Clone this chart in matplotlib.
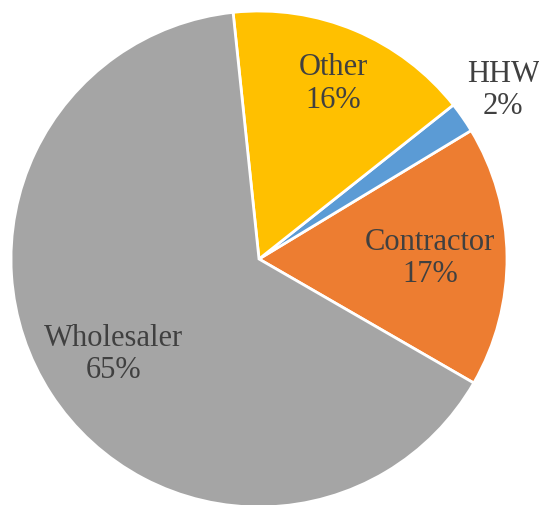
import numpy as np
import matplotlib.pyplot as plt

# slices, counter-clockwise from the lower right
labels = ["Contractor", "HHW", "Other", "Wholesaler"]
shares = [17, 2, 16, 65]
colors = ["#ED7D31", "#5B9BD5", "#FFC000", "#A5A5A5"]
label_dist = [0.69, 1.20, 0.77, 0.70]

fig = plt.figure(figsize=(5.39, 5.06), dpi=100)
ax = fig.add_axes([11 / 539, -2 / 506, 496 / 539, 496 / 506])

wedges, _ = ax.pie(
    shares,
    colors=colors,
    startangle=-30,
    counterclock=True,
    radius=1.0,
    wedgeprops=dict(edgecolor="white", linewidth=2.0),
)

for w, lab, val, d in zip(wedges, labels, shares, label_dist):
    mid = np.deg2rad((w.theta1 + w.theta2) / 2)
    ax.text(
        d * np.cos(mid), d * np.sin(mid),
        f"{lab}\n{val}%",
        ha="center", va="center",
        fontsize=22, family="Liberation Serif", color="#404040",
        linespacing=1.15,
    )

ax.set_xlim(-1, 1)
ax.set_ylim(-1, 1)
ax.set_aspect("equal")
ax.axis("off")

fig.savefig("out.png", dpi=100)
